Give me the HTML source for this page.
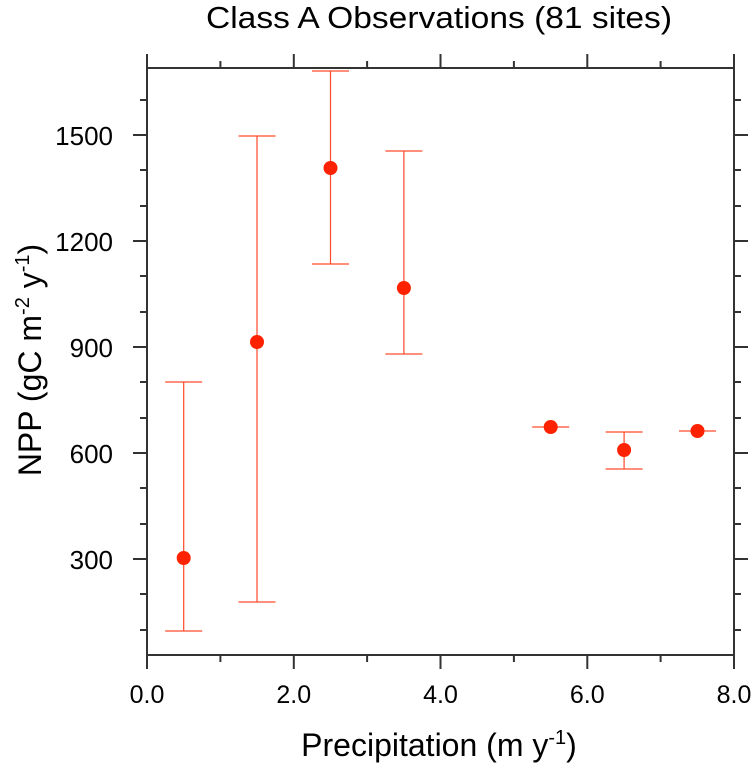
<!DOCTYPE html><html><head><style>body{margin:0;background:#fff}svg{display:block}text{font-family:"Liberation Sans",sans-serif;fill:#000}</style></head><body>
<svg width="751" height="765" xmlns="http://www.w3.org/2000/svg">
<text x="439" y="28" font-size="31" text-anchor="middle" textLength="466" lengthAdjust="spacingAndGlyphs">Class A Observations (81 sites)</text>
<g stroke="#333" stroke-width="2" fill="none">
<rect x="147" y="68" width="587" height="587"/>
<path d="M147,655v14M220.4,655v7M293.8,655v14M367.1,655v7M440.5,655v14M513.9,655v7M587.3,655v14M660.6,655v7M734,655v14
M147,68v-14M220.4,68v-7M293.8,68v-14M367.1,68v-7M440.5,68v-14M513.9,68v-7M587.3,68v-14M660.6,68v-7M734,68v-14"/>
<path d="M147,135h-14M147,241h-14M147,347h-14M147,453h-14M147,559h-14
M147,100h-7M147,170h-7M147,206h-7M147,276h-7M147,312h-7M147,382h-7M147,418h-7M147,488h-7M147,524h-7M147,594h-7M147,630h-7
M734,135h14M734,241h14M734,347h14M734,453h14M734,559h14
M734,100h7M734,170h7M734,206h7M734,276h7M734,312h7M734,382h7M734,418h7M734,488h7M734,524h7M734,594h7M734,630h7"/>
</g>
<g font-size="26" text-anchor="end">
<text x="113" y="145">1500</text><text x="113" y="251">1200</text><text x="113" y="357">900</text><text x="113" y="463">600</text><text x="113" y="569">300</text>
</g>
<g font-size="25" text-anchor="middle">
<text x="147" y="703">0.0</text><text x="293.8" y="703">2.0</text><text x="440.5" y="703">4.0</text><text x="587.3" y="703">6.0</text><text x="734" y="703">8.0</text>
</g>
<text x="439" y="756" font-size="32" text-anchor="middle">Precipitation (m y<tspan dy="-12" font-size="20">-1</tspan><tspan dy="12">)</tspan></text>
<text transform="translate(41,360) rotate(-90)" font-size="32" text-anchor="middle">NPP (gC m<tspan dy="-12" font-size="20">-2</tspan><tspan dy="12"> y</tspan><tspan dy="-12" font-size="20">-1</tspan><tspan dy="12">)</tspan></text>
<g stroke="#ff4a2a" stroke-width="1.2" fill="none">
<path d="M183.7,382V631M165.2,382h37M165.2,631h37"/>
<path d="M257,136V602M238.5,136h37M238.5,602h37"/>
<path d="M330.5,71V264M312,71h37M312,264h37"/>
<path d="M403.9,151V354M385.4,151h37M385.4,354h37"/>
<path d="M532.2,427h37"/>
<path d="M624.1,432V469M605.6,432h37M605.6,469h37"/>
<path d="M679,431h37"/>
</g>
<g fill="#ff2200">
<circle cx="183.7" cy="558" r="7"/><circle cx="257" cy="342" r="7"/><circle cx="330.5" cy="168" r="7"/><circle cx="403.9" cy="288" r="7"/><circle cx="550.7" cy="427" r="7"/><circle cx="624.1" cy="450" r="7"/><circle cx="697.5" cy="431" r="7"/>
</g>
</svg></body></html>
